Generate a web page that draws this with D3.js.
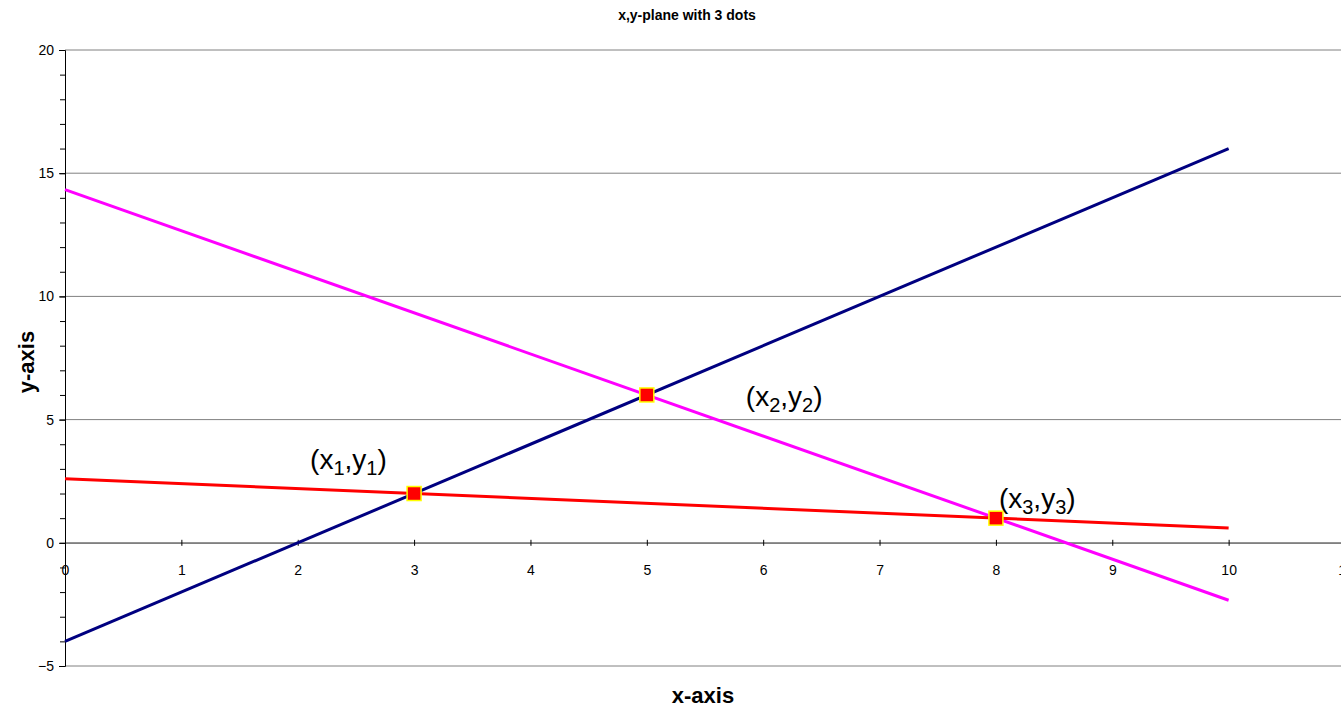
<!DOCTYPE html>
<html>
<head>
<meta charset="utf-8">
<script src="https://cdn.jsdelivr.net/npm/d3@7"></script>
<style>
  body { margin: 0; background: #fff; }
  text { font-family: "Liberation Sans", Arial, sans-serif; }
</style>
</head>
<body>
<div id="chart"></div>
<script>
// Line data (x from 0 to 10)
var blueLine = [{x: 0, y: -4}, {x: 10, y: 16}];
var magentaLine = [{x: 0, y: 14.33}, {x: 10, y: -2.33}];
var redLine = [{x: 0, y: 2.6}, {x: 10, y: 0.6}];

// The three dots
var dots = [{x: 3, y: 2, n: "1"}, {x: 5, y: 6, n: "2"}, {x: 8, y: 1, n: "3"}];

var xTicks = [0, 1, 2, 3, 4, 5, 6, 7, 8, 9, 10, 11];
var yTicks = [-5, 0, 5, 10, 15, 20];

var W = 1341, H = 708;

var svg = d3.select("#chart").append("svg")
  .attr("width", W)
  .attr("height", H);

var x = d3.scaleLinear().domain([0, 11]).range([65, 1345]);
var y = d3.scaleLinear().domain([-5, 20]).range([666, 50]);

// Horizontal grid lines
svg.append("g")
  .selectAll("line")
  .data(yTicks)
  .enter().append("line")
  .attr("x1", x(0))
  .attr("x2", W)
  .attr("y1", d => y(d))
  .attr("y2", d => y(d))
  .attr("stroke", "#808080")
  .attr("stroke-width", 1);

// Y axis with minor ticks
svg.append("g")
  .attr("transform", "translate(" + x(0) + ",0)")
  .call(d3.axisLeft(y).tickValues(d3.range(-5, 21, 1)).tickSize(5).tickFormat(""))
  .call(g => g.select(".domain").attr("stroke", "#000"));

svg.append("g")
  .attr("transform", "translate(" + x(0) + ",0)")
  .call(d3.axisLeft(y).tickValues(yTicks).tickSize(6).tickPadding(5))
  .call(g => g.select(".domain").remove())
  .call(g => g.selectAll("text").style("font-size", "14px").style("font-family", "Liberation Sans, Arial, sans-serif"));

// X axis at y = 0
svg.append("g")
  .attr("transform", "translate(0," + y(0) + ")")
  .call(d3.axisBottom(x).tickValues(xTicks).tickSizeInner(4).tickSizeOuter(0).tickPadding(18))
  .call(g => g.select(".domain").attr("stroke", "#808080").attr("stroke-width", 1.5))
  .call(g => g.selectAll(".tick line").attr("y1", -3).attr("y2", 3))
  .call(g => g.selectAll("text").style("font-size", "14px").style("font-family", "Liberation Sans, Arial, sans-serif"));

// Lines
var line = d3.line().x(d => x(d.x)).y(d => y(d.y));

[[blueLine, "#000080"], [magentaLine, "#ff00ff"], [redLine, "#ff0000"]].forEach(function(s) {
  svg.append("path")
    .datum(s[0])
    .attr("d", line)
    .attr("fill", "none")
    .attr("stroke", s[1])
    .attr("stroke-width", 3);
});

// Markers
svg.append("g")
  .selectAll("rect")
  .data(dots)
  .enter().append("rect")
  .attr("x", d => x(d.x) - 7)
  .attr("y", d => y(d.y) - 7)
  .attr("width", 14)
  .attr("height", 14)
  .attr("fill", "#ff0000")
  .attr("stroke", "#ffff00")
  .attr("stroke-width", 1.5);

// Point labels
var labelPos = [{dx: -104, dy: -25}, {dx: 99, dy: 11}, {dx: 3, dy: -10}];

var labels = svg.append("g")
  .selectAll("text")
  .data(dots)
  .enter().append("text")
  .attr("x", (d, i) => x(d.x) + labelPos[i].dx)
  .attr("y", (d, i) => y(d.y) + labelPos[i].dy)
  .style("font-size", "28px")
  .attr("fill", "#000");

labels.each(function(d) {
  var t = d3.select(this);
  t.append("tspan").text("(x");
  t.append("tspan").attr("dy", 6).style("font-size", "20px").text(d.n);
  t.append("tspan").attr("dy", -6).text(",y");
  t.append("tspan").attr("dy", 6).style("font-size", "20px").text(d.n);
  t.append("tspan").attr("dy", -6).text(")");
});

// Title
svg.append("text")
  .attr("x", 687)
  .attr("y", 20)
  .attr("text-anchor", "middle")
  .style("font-size", "14px")
  .style("font-weight", "bold")
  .text("x,y-plane with 3 dots");

// Axis titles
svg.append("text")
  .attr("x", 703)
  .attr("y", 703)
  .attr("text-anchor", "middle")
  .style("font-size", "22px")
  .style("font-weight", "bold")
  .text("x-axis");

svg.append("text")
  .attr("transform", "rotate(-90)")
  .attr("x", -362)
  .attr("y", 34)
  .attr("text-anchor", "middle")
  .style("font-size", "22px")
  .style("font-weight", "bold")
  .text("y-axis");
</script>
</body>
</html>
